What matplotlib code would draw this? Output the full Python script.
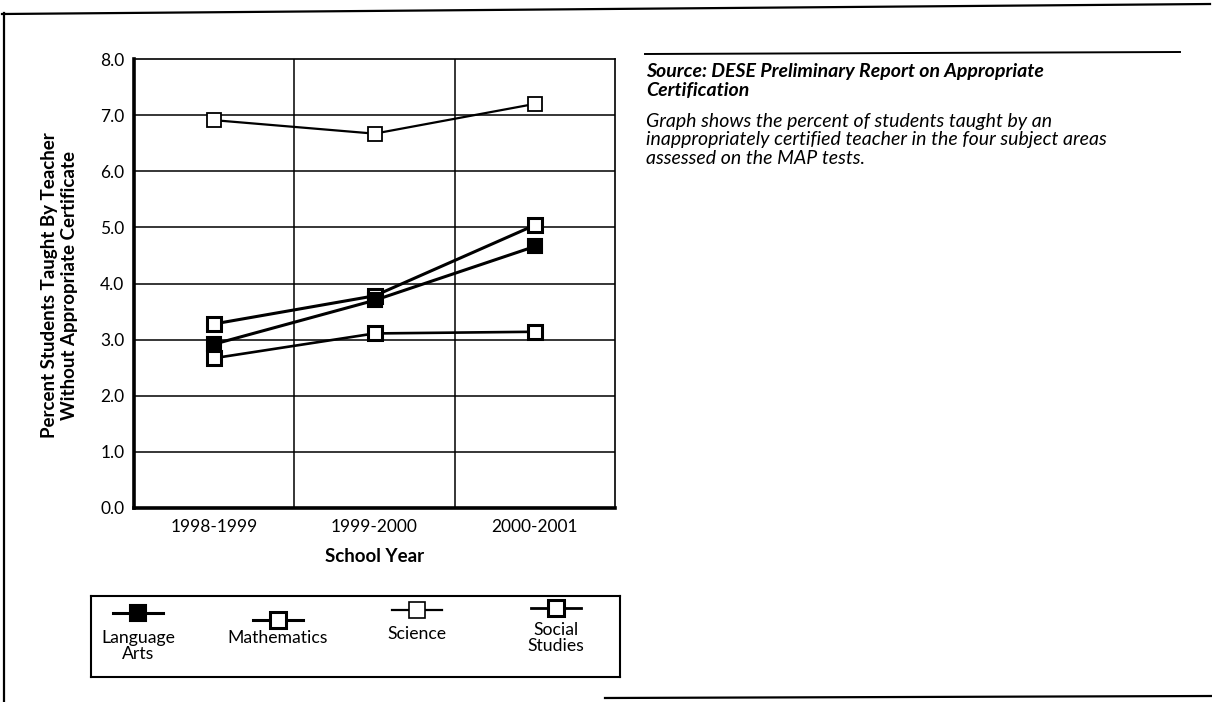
import matplotlib
matplotlib.use("Agg")
import matplotlib.pyplot as plt
from matplotlib.lines import Line2D

plt.rcParams['font.family'] = ['Lato', 'DejaVu Sans']

# ---- data ----
years = ["1998-1999", "1999-2000", "2000-2001"]
language_arts = [2.92, 3.70, 4.66]
mathematics = [3.28, 3.78, 5.04]
science = [6.91, 6.67, 7.20]
social_studies = [2.67, 3.11, 3.14]
y_ticks = [0.0, 1.0, 2.0, 3.0, 4.0, 5.0, 6.0, 7.0, 8.0]
legend_labels = ["Language\nArts", "Mathematics", "Science", "Social\nStudies"]

W, H = 1212, 702
fig = plt.figure(figsize=(W / 100, H / 100), dpi=100)

def fx(x):
    return x / W

def fy(y):
    return 1 - y / H

# outer frame lines (figure pixel coords)
frame = fig.add_axes([0, 0, 1, 1])
frame.set_xlim(0, W)
frame.set_ylim(H, 0)
frame.axis('off')
frame.plot([2, 1210], [14, 4], color='black', lw=1.6)
frame.plot([4, 4], [13, 702], color='black', lw=1.6)
frame.plot([605, 1212], [698, 696], color='black', lw=1.6)
frame.plot([645, 1180], [54, 52], color='black', lw=1.4)

# ---- main axes ----
L, R, T, B = 134, 615, 59, 508
ax = fig.add_axes([fx(L), fy(B), fx(R - L), (B - T) / H])
x = list(range(len(years)))

ax.plot(x, science, color='black', lw=1.6, marker='s', ms=10.5,
        mfc='white', mec='black', mew=1.3, zorder=3)
ax.plot(x, social_studies, color='black', lw=1.9, marker='s', ms=10.5,
        mfc='white', mec='black', mew=2.2, zorder=4)
ax.plot(x, mathematics, color='black', lw=2.2, marker='s', ms=10.5,
        mfc='white', mec='black', mew=2.2, zorder=5)
ax.plot(x, language_arts, color='black', lw=2.2, marker='s', ms=10.5,
        mfc='black', mec='black', mew=1.5, zorder=6)

ax.set_xlim(-0.5, 2.5)
ax.set_ylim(0, 8)
ax.set_yticks(y_ticks)
ax.set_yticklabels([f"{v:.1f}" for v in y_ticks])
ax.set_xticks(x)
ax.set_xticklabels(years)
ax.tick_params(axis='both', length=0, labelsize=12.5, colors='black')
ax.tick_params(axis='y', pad=7)
ax.tick_params(axis='x', pad=8)

for v in y_ticks[1:-1]:
    ax.axhline(v, color='black', lw=1.1, zorder=1)
for v in [0.5, 1.5]:
    ax.axvline(v, color='black', lw=1.1, zorder=1)

ax.spines['left'].set_linewidth(2.6)
ax.spines['bottom'].set_linewidth(2.6)
ax.spines['top'].set_linewidth(1.2)
ax.spines['right'].set_linewidth(1.2)

ax.set_xlabel("School Year", fontsize=13.5, fontweight='bold', labelpad=9)

fig.text(fx(50), fy(285), "Percent Students Taught By Teacher",
         rotation=90, ha='center', va='center', fontsize=13.5, fontweight='bold')
fig.text(fx(70), fy(285), "Without Appropriate Certificate",
         rotation=90, ha='center', va='center', fontsize=13.5, fontweight='bold')

# ---- right text ----
fig.text(fx(646), fy(72), "Source: DESE Preliminary Report on Appropriate",
         ha='left', va='center', fontsize=14, fontweight='bold', style='italic')
fig.text(fx(646), fy(91), "Certification",
         ha='left', va='center', fontsize=14, fontweight='bold', style='italic')
desc = ["Graph shows the percent of students taught by an",
        "inappropriately certified teacher in the four subject areas",
        "assessed on the MAP tests."]
for i, line in enumerate(desc):
    fig.text(fx(646), fy(121 + 19 * i), line, ha='left', va='center',
             fontsize=14, style='italic')

# ---- legend box ----
LL, LR, LT, LB = 91, 620, 596, 677
lax = fig.add_axes([fx(LL), fy(LB), fx(LR - LL), (LB - LT) / H])
lax.set_xlim(LL, LR)
lax.set_ylim(LB, LT)
lax.set_xticks([])
lax.set_yticks([])
for s in lax.spines.values():
    s.set_linewidth(1.5)

leg_x = [138, 278, 417, 556]
leg_y = [613, 620, 610, 608]
leg_face = ['black', 'white', 'white', 'white']
leg_mew = [1.5, 2.2, 1.2, 2.2]
leg_lw = [2.2, 2.2, 1.6, 2.0]
leg_label_y = [646, 638, 634, 638]
for lx, ly, fc, mw, lw, lab, lyy in zip(leg_x, leg_y, leg_face, leg_mew,
                                        leg_lw, legend_labels, leg_label_y):
    lax.add_line(Line2D([lx - 25, lx + 25], [ly, ly], color='black', lw=lw))
    lax.add_line(Line2D([lx], [ly], marker='s', ms=11, mfc=fc, mec='black',
                        mew=mw, color='black'))
    lax.text(lx, lyy, lab, ha='center', va='center', fontsize=12.7,
             linespacing=1.0)

fig.savefig("out.png", dpi=100)
